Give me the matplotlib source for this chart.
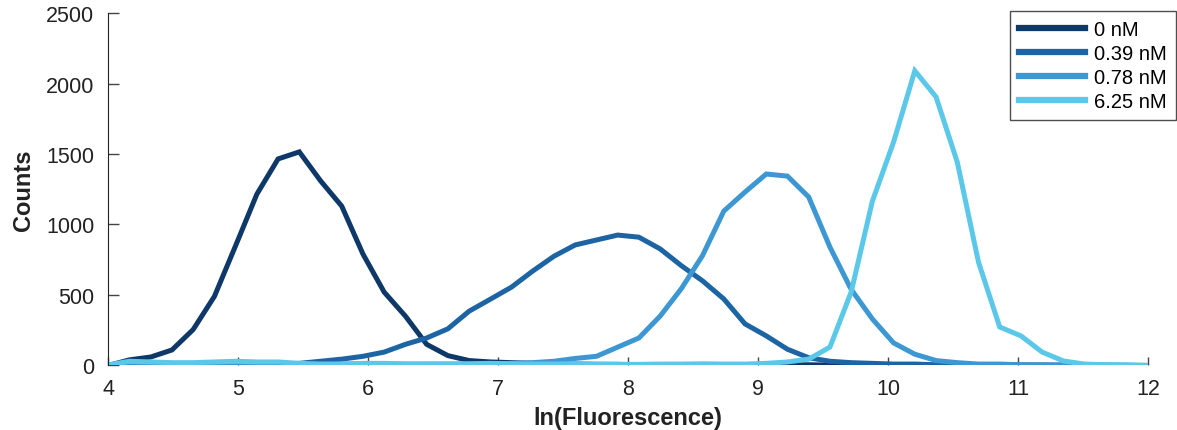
import numpy as np
import matplotlib
matplotlib.use('Agg')
import matplotlib.pyplot as plt

plt.rcParams['font.family'] = ['Liberation Sans', 'DejaVu Sans']

# bin centres of ln(fluorescence), 50 bins between 4 and 12
ln_fluo = np.linspace(4, 12, 50)

labels = ['0 nM', '0.39 nM', '0.78 nM', '6.25 nM']
colores = ['#0d3868', '#1c64a4', '#3d97d3', '#5bc8ea']

counts_0 = [0, 40, 60, 110, 255, 490, 850, 1215, 1465, 1515,
            1310, 1130, 790, 520, 350, 150, 70, 35, 25, 20,
            15, 10, 10, 8, 8, 5, 5, 5, 5, 5,
            5, 5, 5, 5, 3, 3, 3, 3, 2, 2,
            2, 2, 2, 1, 1, 1, 1, 1, 0, 0]

counts_039 = [0, 20, 10, 5, 5, 10, 10, 5, 10, 15,
              30, 45, 65, 95, 150, 195, 260, 385, 470, 556,
              670, 775, 855, 890, 925, 910, 827, 708, 600, 472,
              295, 210, 115, 55, 30, 20, 15, 10, 10, 5,
              5, 5, 3, 3, 2, 2, 1, 1, 0, 0]

counts_078 = [0, 20, 10, 10, 10, 8, 8, 10, 10, 8,
              8, 10, 10, 8, 8, 10, 10, 10, 12, 15,
              20, 30, 50, 65, 130, 195, 350, 545, 780, 1095,
              1230, 1358, 1343, 1195, 840, 540, 330, 160, 80, 35,
              20, 10, 10, 5, 5, 3, 3, 2, 1, 0]

counts_625 = [5, 30, 25, 20, 20, 25, 30, 25, 25, 15,
              10, 10, 15, 15, 12, 10, 10, 12, 15, 12,
              10, 10, 12, 10, 8, 8, 10, 10, 12, 10,
              10, 15, 25, 45, 130, 520, 1165, 1585, 2090, 1905,
              1443, 733, 273, 210, 95, 32, 10, 5, 5, 0]

series = [counts_0, counts_039, counts_078, counts_625]

fig = plt.figure(figsize=(11.77, 4.31), dpi=100)
ax = fig.add_axes([0.092, 0.1497, 0.8836, 0.8178])

for i in range(len(series)):
	ax.plot(ln_fluo, series[i], color=colores[i], lw=3.6, label=labels[i],
	        solid_joinstyle='miter')

ax.set_xlim(4, 12)
ax.set_ylim(0, 2500)
ax.set_xticks(np.arange(4, 13, 1))
ax.set_yticks(np.arange(0, 2501, 500))

# solo eje izquierdo visible, el de abajo queda tapado por las curvas
ax.spines['top'].set_visible(False)
ax.spines['right'].set_visible(False)
ax.spines['bottom'].set_visible(False)
ax.spines['left'].set_color('#222222')
ax.tick_params(axis='y', direction='in', length=8, width=1, colors='#444444',
               labelsize=15.5, labelcolor='#222222', pad=10)
ax.tick_params(axis='x', direction='in', length=6, width=1, colors='#444444',
               labelsize=15.5, labelcolor='#222222', pad=9)

ax.set_xlabel('ln(Fluorescence)', fontsize=17, fontweight='bold', color='#222222', labelpad=5)
ax.set_ylabel('Counts', fontsize=17, fontweight='bold', color='#222222', labelpad=8)

leg = ax.legend(loc='upper right', bbox_to_anchor=(1176 / 1177, 1 - 12 / 431),
                bbox_transform=fig.transFigure, fontsize=14.5, frameon=True,
                fancybox=False, edgecolor='#222222', handlelength=3.3,
                handletextpad=0.45, labelspacing=0.25, borderpad=0.45,
                borderaxespad=0)
leg.get_frame().set_linewidth(1)
for line in leg.get_lines():
	line.set_linewidth(4.5)

plt.savefig('out.png', dpi=100)
